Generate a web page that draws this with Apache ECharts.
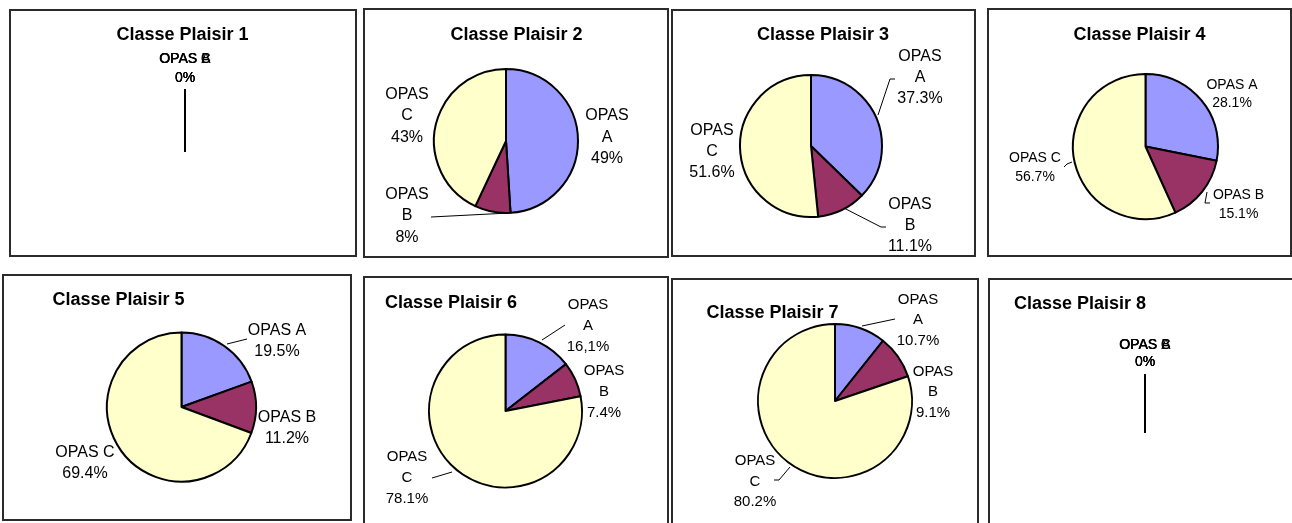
<!DOCTYPE html>
<html>
<head>
<meta charset="utf-8">
<script src="https://cdn.jsdelivr.net/npm/echarts@6/dist/echarts.min.js"></script>
<style>
html,body{margin:0;padding:0;background:#fff;}
#chart{width:1292px;height:523px;}
</style>
</head>
<body>
<div id="chart"></div>
<script>
// ---- data ----
const titles = ['Classe Plaisir 1','Classe Plaisir 2','Classe Plaisir 3','Classe Plaisir 4',
                'Classe Plaisir 5','Classe Plaisir 6','Classe Plaisir 7','Classe Plaisir 8'];
const categories = ['OPAS A','OPAS B','OPAS C'];
const values1 = [0, 0, 0];
const values2 = [49, 8, 43];
const values3 = [37.3, 11.1, 51.6];
const values4 = [28.1, 15.1, 56.7];
const values5 = [19.5, 11.2, 69.4];
const values6 = [14.5, 7.4, 78.1];
const values7 = [10.7, 9.1, 80.2];
const values8 = [0, 0, 0];
const pctLabels1 = ['0%', '0%', '0%'];
const pctLabels2 = ['49%', '8%', '43%'];
const pctLabels3 = ['37.3%', '11.1%', '51.6%'];
const pctLabels4 = ['28.1%', '15.1%', '56.7%'];
const pctLabels5 = ['19.5%', '11.2%', '69.4%'];
const pctLabels6 = ['16,1%', '7.4%', '78.1%'];
const pctLabels7 = ['10.7%', '9.1%', '80.2%'];
const pctLabels8 = ['0%', '0%', '0%'];

const allValues = [values1, values2, values3, values4, values5, values6, values7, values8];
const allLabels = [pctLabels1, pctLabels2, pctLabels3, pctLabels4, pctLabels5, pctLabels6, pctLabels7, pctLabels8];

// ---- layout (positions / styles) ----
const FONT = '"Liberation Sans", Arial, sans-serif';
const colors = ['#9999FF', '#993366', '#FFFFCC'];
const layout = [
  {box:[10,10,356,256], title:[182.5,35], center:[185,151], r:61, font:14, lh:19, wrap:false,
   labels:[[185,68.5],[185,68.5],[185,68.5]], lines:[null,null,null]},
  {box:[364,9,668,257], title:[516.5,35], center:[506,141], r:72, font:16, lh:21.5, wrap:true,
   labels:[[607,137.5],[407,216],[407,116]], lines:[null,[[509,213],[431,217]],null]},
  {box:[672,10,975,256], title:[823,35], center:[811,146], r:71, font:16, lh:21, wrap:true,
   labels:[[920,78],[910,225.3],[712,152]], lines:[[[878,115],[890,79],[895,79]],[[838,205],[881,227],[886,227]],null]},
  {box:[988,9,1291,256], title:[1139.5,35], center:[1145.5,146.5], r:72.5, font:14, lh:18.5, wrap:false,
   labels:[[1232,94],[1238.5,204.5],[1035,167.5]], lines:[null,[[1207,192],[1205,203],[1210,203]],[[1072,162],[1067,164],[1064,167]]]},
  {box:[3,275,351,520], title:[118.5,300.5], center:[181.5,407], r:74.5, font:16, lh:21, wrap:false,
   labels:[[277,341.5],[287,428],[85,463]], lines:[[[227,344],[247,339]],null,null]},
  {box:[364,277,668,540], title:[451,303], center:[505.5,411], r:76.5, font:15, lh:21, wrap:true,
   labels:[[588,325.7],[604,391.7],[407,478]], lines:[[[542,340],[565,325]],null,[[452,472],[432,478]]]},
  {box:[672,279,978,540], title:[772.5,313], center:[835,401], r:77, font:15, lh:20.5, wrap:true,
   labels:[[918,320],[933,392.3],[755,481.7]], lines:[[[862,326],[895,319]],null,[[790,467],[779,480],[774,480]]]},
  {box:[989,279,1300,540], title:[1080,304.5], center:[1145,432], r:57, font:14, lh:17, wrap:false,
   labels:[[1145,353.5],[1145,353.5],[1145,353.5]], lines:[null,null,null]}
];

const graphics = [];
layout.forEach((p, i) => {
  graphics.push({
    type:'rect', silent:true, z:0,
    shape:{x:p.box[0], y:p.box[1], width:p.box[2]-p.box[0], height:p.box[3]-p.box[1]},
    style:{fill:'#fff', stroke:'#2b2b2b', lineWidth:2}
  });
  graphics.push({
    type:'text', silent:true, z:100,
    x:p.title[0], y:p.title[1],
    style:{text:titles[i], font:'bold 18px ' + FONT, fill:'#000', align:'center', verticalAlign:'middle'}
  });
});

const series = layout.map((p, i) => {
  const vals = allValues[i], labs = allLabels[i];
  return {
    type:'pie',
    center:p.center,
    radius:p.r,
    startAngle:90,
    clockwise:true,
    stillShowZeroSum:false,
    showEmptyCircle:false,
    avoidLabelOverlap:false,
    silent:true,
    z:10,
    itemStyle:{borderColor:'#000', borderWidth:2},
    label:{
      show:true, position:'outside', color:'#000', fontFamily:FONT,
      fontSize:p.font, lineHeight:p.lh, align:'center',
      formatter: (prm) => (p.wrap ? prm.name.replace(' ', '\n') : prm.name) + '\n' + labs[prm.dataIndex]
    },
    labelLine:{show:true, length:5, length2:5, lineStyle:{color:'#000', width:1}},
    labelLayout: (prm) => {
      const k = prm.dataIndex;
      const o = {x:p.labels[k][0], y:p.labels[k][1], align:'center', verticalAlign:'middle'};
      if (p.lines[k]) o.labelLinePoints = p.lines[k];
      return o;
    },
    data: categories.map((c, k) => ({
      name:c, value:vals[k],
      itemStyle:{color:colors[k]},
      labelLine:{show: !!p.lines[k]}
    }))
  };
});

const chart = echarts.init(document.getElementById('chart'), null, {renderer:'canvas'});
chart.setOption({
  backgroundColor:'#fff',
  animation:false,
  graphic:{elements:graphics},
  series:series
});
</script>
</body>
</html>
